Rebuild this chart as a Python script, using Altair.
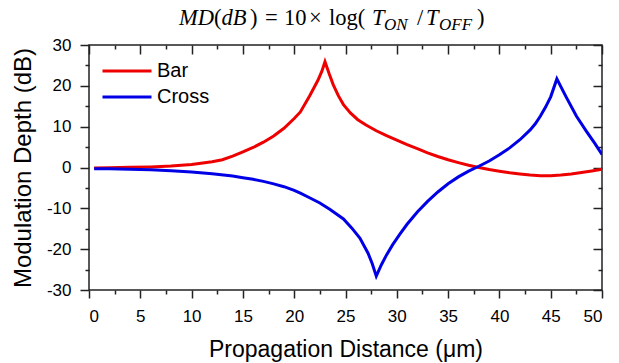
import altair as alt
import pandas as pd

# ---- data ----
bar_x = [0.5, 2, 4, 6, 8, 10, 12, 13, 14, 15, 16, 17, 18, 19, 20, 20.6, 21.5, 22.3, 22.7, 23,
         23.4, 23.8, 24.3, 24.8, 25.5, 26.2, 27, 28, 29, 30, 31, 32, 33, 34, 35, 36, 37,
         38, 39, 40, 41, 42, 43, 44, 45, 46, 47, 48, 49, 50]
bar_y = [-0.1, -0.05, 0.05, 0.15, 0.35, 0.75, 1.4, 1.9, 2.8, 3.8, 4.9, 6.2, 7.7, 9.6, 12.0, 13.6,
         17.5, 21.3, 23.6, 25.9, 23.0, 20.3, 17.6, 15.4, 13.3, 11.7, 10.4, 9.0, 7.8, 6.7, 5.6,
         4.6, 3.6, 2.7, 1.9, 1.2, 0.55, 0.0, -0.5, -0.9, -1.3, -1.6, -1.85, -2.0, -2.0, -1.85,
         -1.6, -1.25, -0.85, -0.4]
cross_x = [0.5, 2, 4, 6, 8, 10, 12, 14, 15, 16, 17, 18, 19, 20, 20.6, 21.5, 22.5, 23.5, 24.8,
           25.6, 26.4, 27.2, 27.6, 28, 28.5, 29, 29.6, 30.3, 31, 32, 33, 34, 35, 36, 37, 38, 39,
           40, 41, 42, 43, 43.5, 44, 44.5, 45, 45.6, 46.5, 47.5, 48.5, 49.3, 50]
cross_y = [-0.3, -0.3, -0.4, -0.55, -0.8, -1.1, -1.55, -2.1, -2.5, -2.9, -3.4, -4.0, -4.7, -5.6,
           -6.3, -7.4, -8.7, -10.3, -12.6, -14.8, -17.3, -21.0, -23.5, -26.6, -23.8, -21.4,
           -18.9, -16.3, -13.9, -10.9, -8.3, -6.0, -4.0, -2.3, -0.9, 0.3, 1.6, 3.1, 4.8, 6.8,
           9.2, 10.7, 12.6, 14.8, 17.3, 21.7, 17.3, 12.6, 8.8, 5.9, 3.2]
series_names = ["Bar", "Cross"]
series_colors = ["#ee0000", "#0000e6"]
x_major = [0, 5, 10, 15, 20, 25, 30, 35, 40, 45, 50]
x_minor = [2.5, 7.5, 12.5, 17.5, 22.5, 27.5, 32.5, 37.5, 42.5, 47.5]
y_major = [-30, -20, -10, 0, 10, 20, 30]
y_minor = [-25, -15, -5, 5, 15, 25]
x_title = "Propagation Distance (μm)"
y_title = "Modulation Depth (dB)"

df = pd.concat([
    pd.DataFrame({"x": bar_x, "y": bar_y, "series": series_names[0]}),
    pd.DataFrame({"x": cross_x, "y": cross_y, "series": series_names[1]}),
], ignore_index=True)

W, H = 513, 245
INK = "#222222"
SANS = "Liberation Sans"
SERIF = "Liberation Serif"

xs = alt.Scale(domain=[0, 50], nice=False, zero=False)
ys = alt.Scale(domain=[-30, 30], nice=False, zero=False)

base = alt.Chart(df)

# legend symbol: a long horizontal stroke drawn with a small symbol size so rows stay compact
LEGEND_LINE = "M-4.9,0H4.9"

lines = base.mark_line(strokeWidth=3, clip=True).encode(
    x=alt.X("x:Q", scale=xs, axis=alt.Axis(
        orient="bottom", values=x_major, tickSize=8, labelPadding=10, labelFontSize=17,
        labelExpr="'' + datum.value", title=x_title, titleFontSize=23, titleFont=SANS,
        titleFontWeight="normal", titleX=W / 2, titleY=66, titleAlign="center",
        titleBaseline="alphabetic", titleColor="black")),
    y=alt.Y("y:Q", scale=ys, axis=alt.Axis(
        orient="left", values=y_major, tickSize=9, labelPadding=9, labelFontSize=17,
        labelExpr="'' + datum.value", title=y_title, titleFontSize=24, titleFont=SANS,
        titleFontWeight="normal", titleX=-66, titleY=H / 2, titleAngle=270,
        titleAlign="center", titleBaseline="middle", titleColor="black")),
    color=alt.Color("series:N", scale=alt.Scale(domain=series_names, range=series_colors),
                    legend=alt.Legend(title=None, orient="none", legendX=13, legendY=16,
                                      symbolType=LEGEND_LINE, symbolSize=100,
                                      symbolStrokeWidth=3, symbolOffset=15,
                                      labelFontSize=20, labelFont=SANS, labelColor="black",
                                      labelOffset=20, rowPadding=6)),
)


def tick_layer(xaxis=None, yaxis=None):
    return base.mark_point(opacity=0, size=1).encode(
        x=alt.X("x:Q", scale=xs, axis=xaxis),
        y=alt.Y("y:Q", scale=ys, axis=yaxis),
    )


def ticks_only(orient, values, size, offset=0):
    return alt.Axis(orient=orient, values=values, tickSize=size, offset=offset, labels=False,
                    title=None, domain=False, grid=False)


layers = [
    lines,
    tick_layer(xaxis=ticks_only("bottom", x_minor, 4)),
    tick_layer(xaxis=ticks_only("top", x_major, 9, -9)),
    tick_layer(xaxis=ticks_only("top", x_minor, 4, -4)),
    tick_layer(yaxis=ticks_only("left", y_minor, 4)),
    tick_layer(yaxis=ticks_only("right", y_major, 9, -9)),
    tick_layer(yaxis=ticks_only("right", y_minor, 4, -4)),
]

# title  MD(dB) = 10 x log( T_ON / T_OFF )
MAIN, SUB = 22.5, 17
title_parts = [
    ("MD", 90, -20, MAIN, "italic"),
    ("(", 125, -20, MAIN, "normal"),
    ("dB", 132.5, -20, MAIN, "italic"),
    (")", 161, -20, MAIN, "normal"),
    ("=", 176, -20, MAIN, "normal"),
    ("10", 195, -20, MAIN, "normal"),
    ("×", 220, -20, MAIN, "normal"),
    ("log(", 240, -20, MAIN, "normal"),
    ("T", 283, -20, MAIN, "italic"),
    ("ON", 295, -15, SUB, "italic"),
    ("/", 328, -20, MAIN, "normal"),
    ("T", 337, -20, MAIN, "italic"),
    ("OFF", 350, -15, SUB, "italic"),
    (")", 388, -20, MAIN, "normal"),
]
for txt, px, py, fs, style in title_parts:
    layers.append(
        alt.Chart(pd.DataFrame({"t": [txt]})).mark_text(
            font=SERIF, fontSize=fs, fontStyle=style, align="left", baseline="alphabetic",
            color="black").encode(text="t:N", x=alt.value(px), y=alt.value(py))
    )

chart = alt.layer(*layers).resolve_axis(x="independent", y="independent").properties(
    width=W, height=H,
    autosize=alt.AutoSizeParams(type="none"),
    padding={"left": 81, "top": 37, "right": 8, "bottom": 72},
).configure_view(
    stroke=INK, strokeWidth=1.5
).configure_axis(
    domain=False, grid=False, tickColor=INK, tickWidth=1.5, labelColor="black", labelFont=SANS
)

chart.save("out.html", embed_options={"renderer": "svg", "actions": False})
